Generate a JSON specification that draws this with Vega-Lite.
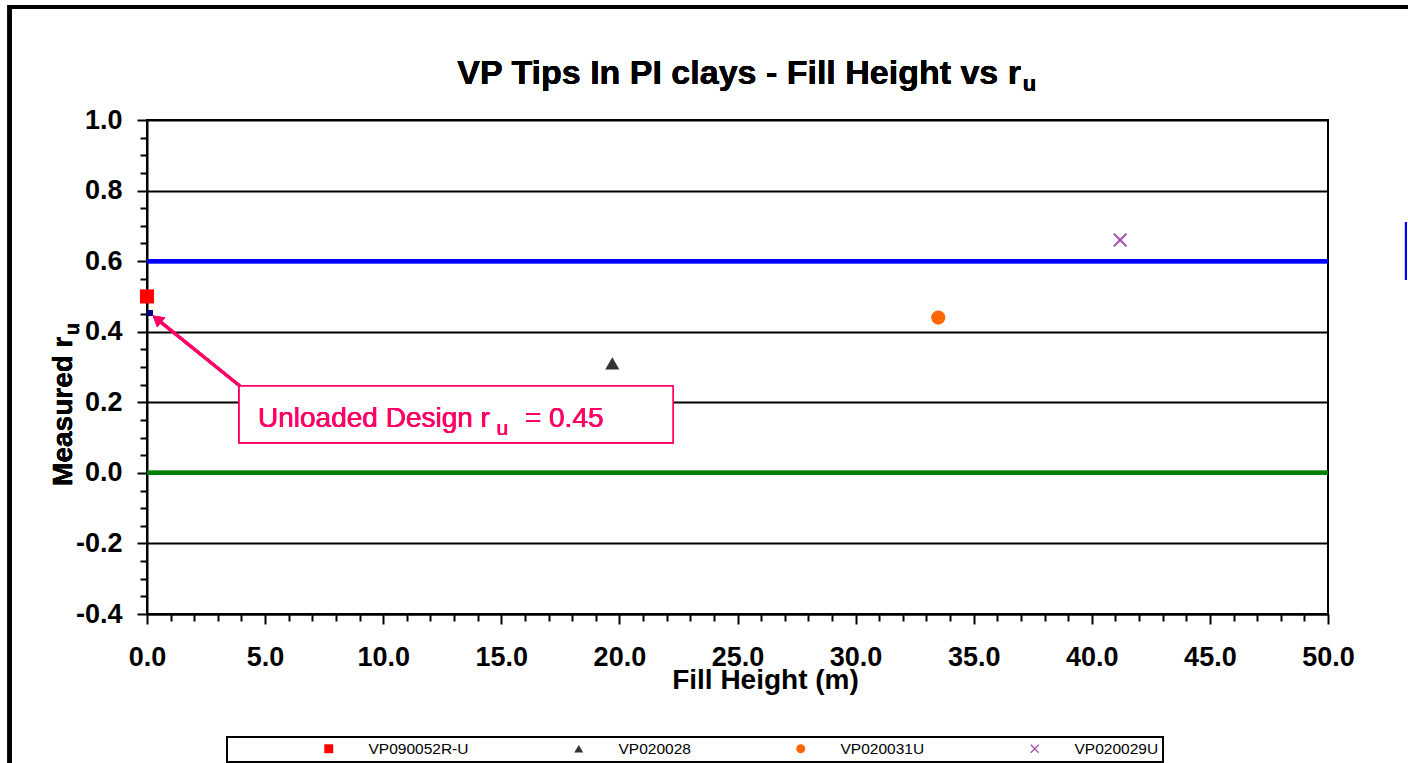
{
  "$schema": "https://vega.github.io/schema/vega-lite/v6.json",
  "width": 1181,
  "height": 494,
  "autosize": {"type": "none"},
  "padding": {"left": 147, "top": 120, "right": 80, "bottom": 149},
  "background": "white",
  "data": {
    "values": [
      {"series": "VP090052R-U", "fill": 0.0, "ru": 0.50},
      {"series": "VP020028", "fill": 19.7, "ru": 0.31},
      {"series": "VP020031U", "fill": 33.5, "ru": 0.44},
      {"series": "VP020029U", "fill": 41.2, "ru": 0.66}
    ]
  },
  "resolve": {"axis": {"x": "independent", "y": "independent"}},
  "layer": [
    {
      "mark": {"type": "point", "opacity": 0},
      "encoding": {
        "x": {"field": "fill", "type": "quantitative", "scale": {"domain": [0, 50], "nice": false, "zero": false},
          "axis": {"orient": "bottom", "values": [1,2,3,4,6,7,8,9,11,12,13,14,16,17,18,19,21,22,23,24,26,27,28,29,31,32,33,34,36,37,38,39,41,42,43,44,46,47,48,49], "labels": false, "domain": false, "grid": false, "tickSize": 7, "title": null}},
        "y": {"field": "ru", "type": "quantitative", "scale": {"domain": [-0.4, 1], "nice": false, "zero": false},
          "axis": {"orient": "left", "values": [-0.35,-0.3,-0.25,-0.15,-0.1,-0.05,0.05,0.1,0.15,0.25,0.3,0.35,0.45,0.5,0.55,0.65,0.7,0.75,0.85,0.9,0.95], "labels": false, "domain": false, "grid": false, "tickSize": 7, "title": null}}
      }
    },
    {
      "layer": [
        {
          "mark": {"type": "rect", "fill": null, "fillOpacity": 0, "stroke": "black", "strokeWidth": 4},
          "encoding": {
            "x": {"datum": -5.82, "axis": null}, "x2": {"datum": 54.3},
            "y": {"datum": 1.32, "axis": null}, "y2": {"datum": -0.9}
          }
        },
        {
          "mark": {"type": "rule", "stroke": "#008000", "strokeWidth": 4},
          "encoding": {"y": {"datum": 0, "axis": null}}
        },
        {
          "mark": {"type": "rule", "stroke": "#0000FF", "strokeWidth": 4},
          "encoding": {"y": {"datum": 0.6, "axis": null}}
        },
        {
          "mark": {"type": "rule", "stroke": "#0000FF", "strokeWidth": 2},
          "encoding": {"x": {"datum": 53.3, "axis": null}, "y": {"datum": 0.711, "axis": null}, "y2": {"datum": 0.547}}
        },
        {
          "mark": {"type": "point", "shape": "square", "filled": true, "size": 35, "color": "#000080", "opacity": 1},
          "encoding": {"x": {"datum": 0.12, "axis": null}, "y": {"datum": 0.453, "axis": null}}
        },
        {
          "mark": {"type": "rule", "stroke": "#FF0066", "strokeWidth": 3},
          "encoding": {"x": {"datum": 3.94, "axis": null}, "y": {"datum": 0.246, "axis": null}, "x2": {"datum": 0.42}, "y2": {"datum": 0.436}}
        },
        {
          "mark": {"type": "point", "shape": "triangle-up", "filled": true, "size": 160, "angle": 309, "color": "#FF0066", "opacity": 1},
          "encoding": {"x": {"datum": 0.42, "axis": null}, "y": {"datum": 0.436, "axis": null}}
        },
        {
          "mark": {"type": "rect", "fill": "white", "stroke": "#FF0066", "strokeWidth": 1.5},
          "encoding": {"x": {"datum": 3.9, "axis": null}, "x2": {"datum": 22.27}, "y": {"datum": 0.246, "axis": null}, "y2": {"datum": 0.085}}
        },
        {
          "mark": {"type": "text", "text": "Unloaded Design r", "align": "left", "baseline": "alphabetic", "font": "Liberation Sans", "fontSize": 28, "color": "#FF0066"},
          "encoding": {"x": {"datum": 4.7, "axis": null}, "y": {"datum": 0.13, "axis": null}}
        },
        {
          "mark": {"type": "text", "text": "u", "align": "left", "baseline": "alphabetic", "font": "Liberation Sans", "fontSize": 21, "color": "#FF0066"},
          "encoding": {"x": {"datum": 14.8, "axis": null}, "y": {"datum": 0.107, "axis": null}}
        },
        {
          "mark": {"type": "text", "text": "= 0.45", "align": "left", "baseline": "alphabetic", "font": "Liberation Sans", "fontSize": 28, "color": "#FF0066"},
          "encoding": {"x": {"datum": 16.0, "axis": null}, "y": {"datum": 0.13, "axis": null}}
        },
        {
          "mark": {"type": "text", "text": "VP Tips In PI clays - Fill Height vs r", "align": "right", "baseline": "alphabetic", "font": "Liberation Sans", "fontSize": 34, "fontWeight": "bold", "color": "black"},
          "encoding": {"x": {"datum": 37.0, "axis": null}, "y": {"datum": 1.102, "axis": null}}
        },
        {
          "mark": {"type": "text", "text": "u", "align": "left", "baseline": "alphabetic", "font": "Liberation Sans", "fontSize": 22, "fontWeight": "bold", "color": "black"},
          "encoding": {"x": {"datum": 37.08, "axis": null}, "y": {"datum": 1.083, "axis": null}}
        },
        {
          "mark": {"type": "text", "text": "Measured  r", "angle": 270, "align": "left", "baseline": "alphabetic", "font": "Liberation Sans", "fontSize": 28, "fontWeight": "bold", "color": "black"},
          "encoding": {"x": {"datum": -3.175, "axis": null}, "y": {"datum": -0.037, "axis": null}}
        },
        {
          "mark": {"type": "text", "text": "u", "angle": 270, "align": "left", "baseline": "alphabetic", "font": "Liberation Sans", "fontSize": 20, "fontWeight": "bold", "color": "black"},
          "encoding": {"x": {"datum": -2.9, "axis": null}, "y": {"datum": 0.39, "axis": null}}
        }
      ]
    },
    {
      "mark": {"type": "point", "filled": true, "opacity": 1, "size": 200},
      "encoding": {
        "x": {"field": "fill", "type": "quantitative", "scale": {"domain": [0, 50], "nice": false, "zero": false},
          "axis": {"orient": "bottom", "values": [0,5,10,15,20,25,30,35,40,45,50], "format": ".1f", "tickSize": 10, "labelPadding": 20, "labelFlush": false, "labelOverlap": false, "grid": false,
            "title": "Fill Height (m)", "titleX": 618, "titleY": 74, "titleAlign": "center", "titleBaseline": "alphabetic"}},
        "y": {"field": "ru", "type": "quantitative", "scale": {"domain": [-0.4, 1], "nice": false, "zero": false},
          "axis": {"orient": "left", "values": [-0.4,-0.2,0,0.2,0.4,0.6,0.8,1], "labelExpr": "datum.value < 0 ? '-' + format(-datum.value, '.1f') : format(datum.value, '.1f')", "tickSize": 10, "labelPadding": 15, "labelFlush": false, "labelOverlap": false,
            "grid": true, "gridColor": "black", "gridWidth": 2, "gridOpacity": 1, "title": null}},
        "color": {"field": "series", "type": "nominal",
          "scale": {"domain": ["VP090052R-U", "VP020028", "VP020031U", "VP020029U"], "range": ["#FF0000", "#333333", "#FF6600", "#A64CA6"]},
          "legend": {"title": null}},
        "shape": {"field": "series", "type": "nominal",
          "scale": {"domain": ["VP090052R-U", "VP020028", "VP020031U", "VP020029U"], "range": ["square", "triangle-up", "circle", "M-1,-0.8L-0.8,-1L0,-0.2L0.8,-1L1,-0.8L0.2,0L1,0.8L0.8,1L0,0.2L-0.8,1L-1,0.8L-0.2,0Z"]},
          "legend": {"title": null}}
      }
    }
  ],
  "config": {
    "font": "Liberation Sans",
    "view": {"stroke": "black", "strokeWidth": 2},
    "axis": {
      "domainColor": "black", "domainWidth": 2, "tickColor": "black", "tickWidth": 2,
      "labelFont": "Liberation Sans", "labelFontWeight": "bold", "labelFontSize": 27, "labelColor": "black",
      "titleFont": "Liberation Sans", "titleFontWeight": "bold", "titleFontSize": 28, "titleColor": "black"
    },
    "legend": {
      "orient": "none", "legendX": 80, "legendY": 617, "direction": "horizontal", "columns": 4,
      "gridAlign": "none", "columnPadding": 12, "padding": 4, "strokeColor": "black", "strokeWidth": 2, "fillColor": "white",
      "labelFont": "Liberation Sans", "labelFontSize": 15.5, "labelColor": "black",
      "symbolSize": 80, "symbolStrokeWidth": 0, "labelOffset": 32, "symbolOffset": 90
    }
  }
}
